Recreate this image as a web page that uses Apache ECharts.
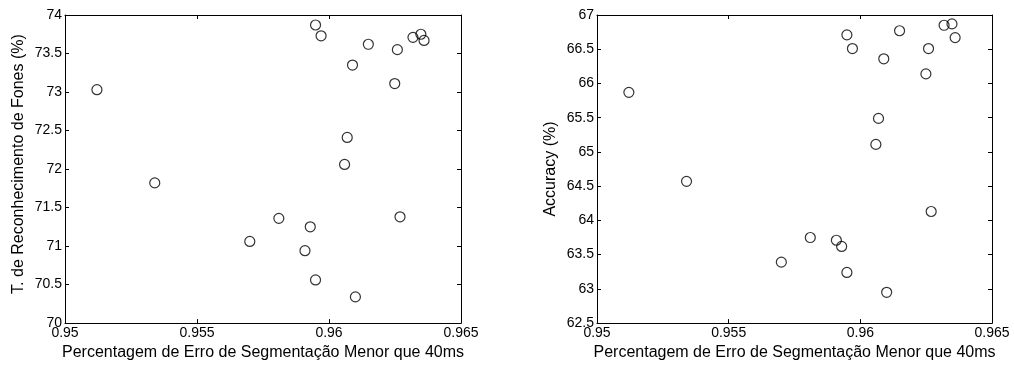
<!DOCTYPE html>
<html>
<head>
<meta charset="utf-8">
<script src="https://cdn.jsdelivr.net/npm/echarts@6/dist/echarts.min.js"></script>
<style>
html,body{margin:0;padding:0;background:#fff;}
#chart{width:1014px;height:366px;}
</style>
</head>
<body>
<div id="chart"></div>
<script>
// Shared x values (fraction of segmentation errors below 40 ms)
const segX = [0.95121, 0.9534, 0.957, 0.9581, 0.95909, 0.95929, 0.95949, 0.95949, 0.9597, 0.96059,
              0.96069, 0.96089, 0.961, 0.96149, 0.96249, 0.96259, 0.96269, 0.96318, 0.96348, 0.9636];
// Left panel: phone recognition rate (%)
const phoneRate = [73.03, 71.82, 71.06, 71.36, 70.94, 71.25, 73.87, 70.56, 73.73, 72.06,
                   72.41, 73.35, 70.34, 73.62, 73.11, 73.55, 71.38, 73.71, 73.75, 73.67];
// Right panel: accuracy (%)
const accuracy = [65.87, 64.57, 63.39, 63.75, 63.71, 63.62, 66.71, 63.24, 66.51, 65.11,
                  65.49, 66.36, 62.95, 66.77, 66.14, 66.51, 64.13, 66.85, 66.87, 66.67];

const xTicks = [0.95, 0.955, 0.96, 0.965];
const leftYTicks = [70, 70.5, 71, 71.5, 72, 72.5, 73, 73.5, 74];
const rightYTicks = [62.5, 63, 63.5, 64, 64.5, 65, 65.5, 66, 66.5, 67];

const xName = 'Percentagem de Erro de Segmentação Menor que 40ms';
const leftYName = 'T. de Reconhecimento de Fones (%)';
const rightYName = 'Accuracy (%)';

const FONT = 'Liberation Sans, Arial, Helvetica, sans-serif';
const chart = echarts.init(document.getElementById('chart'), null, {renderer: 'canvas'});

function fmt(v) { return String(+(+v).toFixed(3)); }

function xAxes(gi) {
  const base = {
    type: 'value', gridIndex: gi,
    min: xTicks[0], max: xTicks[xTicks.length - 1], interval: xTicks[1] - xTicks[0],
    splitLine: {show: false},
    axisLine: {show: true, onZero: false, lineStyle: {color: '#000', width: 1}},
    axisTick: {show: true, inside: true, length: 4, lineStyle: {color: '#000'}},
  };
  return [
    Object.assign({}, base, {
      position: 'bottom',
      name: xName, nameLocation: 'middle', nameGap: 20,
      nameTextStyle: {fontFamily: FONT, fontSize: 16, color: '#000'},
      axisLabel: {show: true, margin: 3, fontFamily: FONT, fontSize: 14, color: '#000', formatter: fmt}
    }),
    Object.assign({}, base, {position: 'top', axisLabel: {show: false}})
  ];
}

function yAxes(gi, ticks, name, gap, pad) {
  const base = {
    type: 'value', gridIndex: gi,
    min: ticks[0], max: ticks[ticks.length - 1], interval: ticks[1] - ticks[0],
    splitLine: {show: false},
    axisLine: {show: true, onZero: false, lineStyle: {color: '#000', width: 1}},
    axisTick: {show: true, inside: true, length: 4, lineStyle: {color: '#000'}},
  };
  return [
    Object.assign({}, base, {
      position: 'left',
      name: name, nameLocation: 'middle', nameGap: gap, nameRotate: 90,
      nameTextStyle: {fontFamily: FONT, fontSize: 16, color: '#000', padding: pad},
      axisLabel: {show: true, margin: 3, fontFamily: FONT, fontSize: 14, color: '#000', formatter: fmt}
    }),
    Object.assign({}, base, {position: 'right', axisLabel: {show: false}})
  ];
}

function pts(ys) { return segX.map((x, i) => [x, ys[i]]); }

const marker = {
  type: 'scatter', symbol: 'circle', symbolSize: 10,
  itemStyle: {color: 'rgba(255,255,255,0)', borderColor: '#000', borderWidth: 1.2},
  emphasis: {disabled: true}, silent: true
};

chart.setOption({
  animation: false,
  backgroundColor: '#fff',
  grid: [
    {left: 65, right: 553, top: 15, bottom: 39, containLabel: false},
    {left: 597, right: 22, top: 15, bottom: 39, containLabel: false}
  ],
  xAxis: xAxes(0).concat(xAxes(1)),
  yAxis: yAxes(0, leftYTicks, leftYName, 38, [0, 0, 0, 10]).concat(yAxes(1, rightYTicks, rightYName, 38, 0)),
  series: [
    Object.assign({}, marker, {xAxisIndex: 0, yAxisIndex: 0, data: pts(phoneRate)}),
    Object.assign({}, marker, {xAxisIndex: 2, yAxisIndex: 2, data: pts(accuracy)})
  ]
});
</script>
</body>
</html>
